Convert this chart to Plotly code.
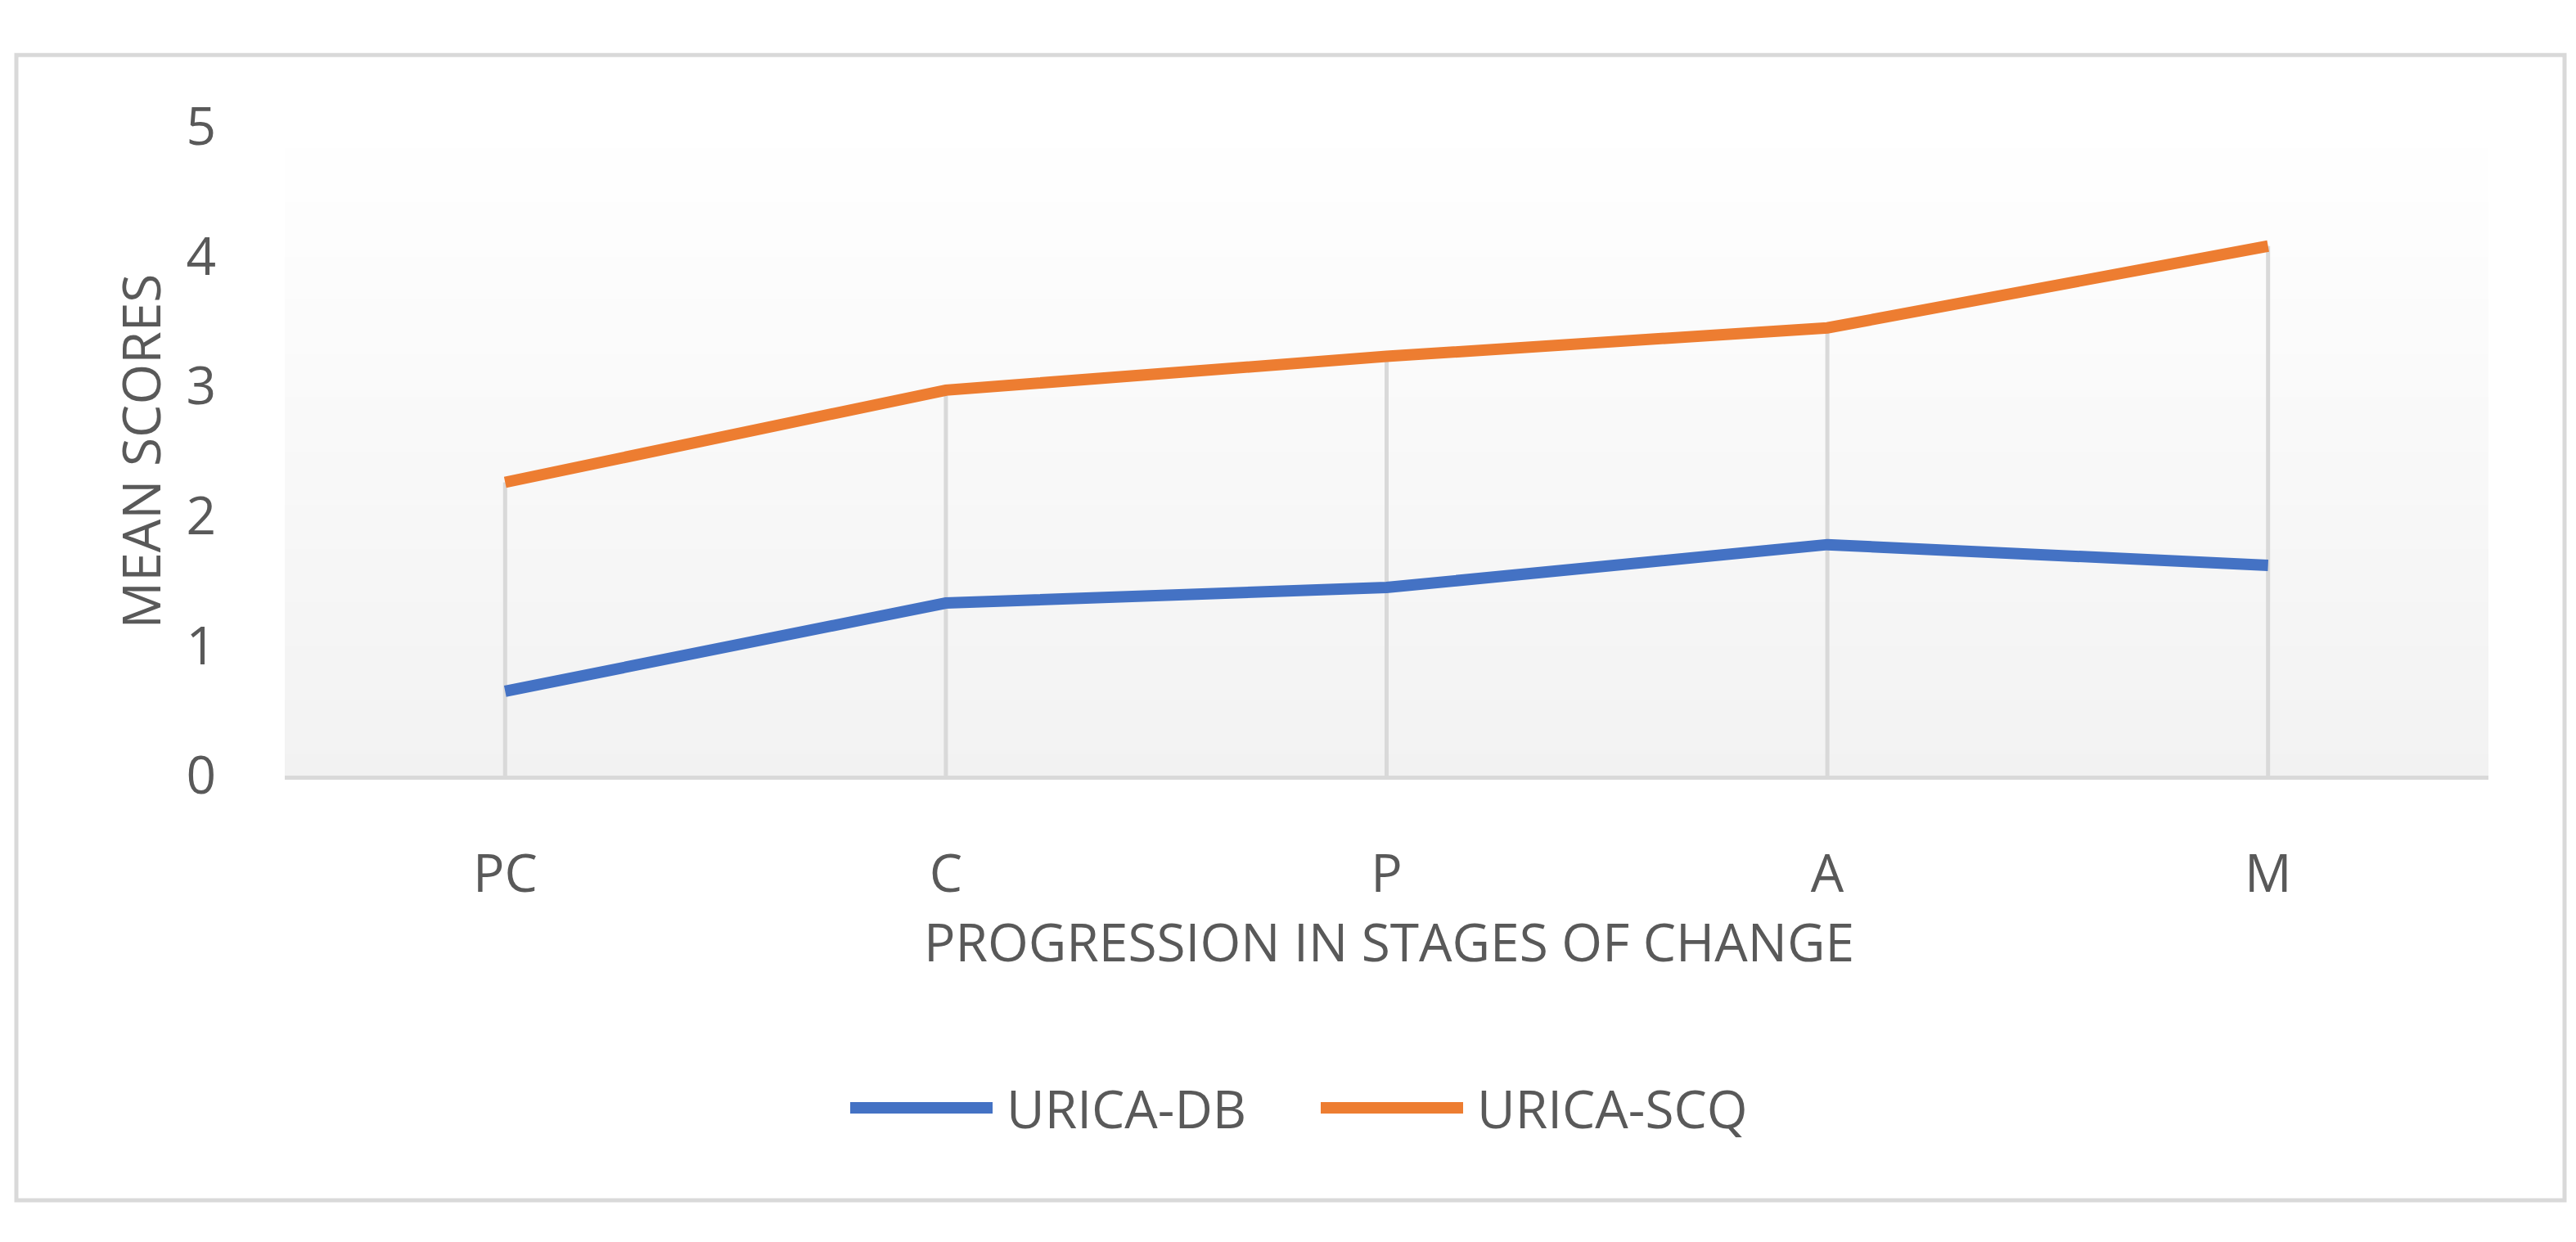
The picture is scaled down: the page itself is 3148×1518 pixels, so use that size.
import plotly.graph_objects as go

# ---- data ----
categories = ["PC", "C", "P", "A", "M"]
urica_db = [0.65, 1.33, 1.45, 1.78, 1.62]
urica_scq = [2.26, 2.97, 3.23, 3.45, 4.08]
y_ticks = [0, 1, 2, 3, 4, 5]
series_names = ["URICA-DB", "URICA-SCQ"]
x_title = "PROGRESSION IN STAGES OF CHANGE"
y_title = "MEAN SCORES"

# ---- styling ----
BLUE = "#4472C4"
ORANGE = "#ED7D31"
GRID = "#D9D9D9"
TEXT = "#595959"
FONT = "Open Sans"
FS = 64

OFF = 8  # default body margin of the page
W, H = 3148 - 2 * OFF, 1518 - 2 * OFF


def fx(X):
    return (X - OFF) / W


def fy(Y):
    return 1 - (Y - OFF) / H


fig = go.Figure()

# drop lines from the highest series down to the axis
dx, dy = [], []
for c, a, b in zip(categories, urica_db, urica_scq):
    dx += [c, c, None]
    dy += [0, max(a, b), None]
fig.add_trace(go.Scatter(x=dx, y=dy, mode="lines", line=dict(color=GRID, width=5),
                         hoverinfo="skip", showlegend=False))

fig.add_trace(go.Scatter(x=categories, y=urica_db, mode="lines", name=series_names[0],
                         line=dict(color=BLUE, width=14), showlegend=False))
fig.add_trace(go.Scatter(x=categories, y=urica_scq, mode="lines", name=series_names[1],
                         line=dict(color=ORANGE, width=14), showlegend=False))

shapes = []
# gradient plot-area fill (white at top to light gray at bottom)
N = 60
for i in range(N):
    t = (i + 0.5) / N  # 0 bottom -> 1 top
    v = int(round(0xF2 + (0xFF - 0xF2) * t))
    shapes.append(dict(type="rect", xref="x domain", yref="y domain",
                       x0=0, x1=1, y0=i / N, y1=(i + 1) / N + 0.002,
                       fillcolor=f"rgb({v},{v},{v})", line=dict(width=0), layer="below"))

# chart border
shapes.append(dict(type="rect", xref="paper", yref="paper",
                   x0=fx(20), x1=fx(3134), y0=fy(1508), y1=fy(22),
                   line=dict(color=GRID, width=5), fillcolor="rgba(0,0,0,0)", layer="below"))

# custom legend (long line symbols as in the original)
legend_items = [(series_names[0], BLUE, 1039, 1213, 1228),
                (series_names[1], ORANGE, 1614, 1788, 1803)]
annotations = []
for name, col, x0, x1, xt in legend_items:
    shapes.append(dict(type="line", xref="paper", yref="paper",
                       x0=fx(x0), x1=fx(x1), y0=fy(1388), y1=fy(1388),
                       line=dict(color=col, width=14)))
    annotations.append(dict(text=name, xref="paper", yref="paper", x=fx(xt), y=fy(1388),
                            xanchor="left", yanchor="middle", showarrow=False,
                            font=dict(family=FONT, size=FS, color=TEXT)))

annotations.append(dict(text=y_title, xref="paper", yref="paper", x=fx(171), y=fy(536),
                        textangle=-90, xanchor="center", yanchor="middle", showarrow=False,
                        font=dict(family=FONT, size=FS, color=TEXT)))
annotations.append(dict(text=x_title, xref="paper", yref="paper", x=fx(1697), y=fy(1172),
                        xanchor="center", yanchor="middle", showarrow=False,
                        font=dict(family=FONT, size=FS, color=TEXT)))

fig.update_layout(
    width=W, height=H, autosize=False,
    margin=dict(l=0, r=0, t=0, b=0, pad=0),
    paper_bgcolor="white", plot_bgcolor="white",
    font=dict(family=FONT, size=FS, color=TEXT),
    shapes=shapes, annotations=annotations,
    showlegend=False,
    xaxis=dict(domain=[fx(348), fx(3041)], type="category", range=[-0.5, 4.5],
               showgrid=False, zeroline=False, showline=True, linecolor=GRID, linewidth=5,
               ticks="outside", ticklen=60, tickcolor="rgba(0,0,0,0)",
               tickfont=dict(family=FONT, size=FS, color=TEXT), fixedrange=True),
    yaxis=dict(domain=[fy(957), fy(115)], range=[0, 5], tickvals=y_ticks,
               showgrid=False, zeroline=False, showline=False,
               ticks="outside", ticklen=70, tickcolor="rgba(0,0,0,0)",
               tickfont=dict(family=FONT, size=FS, color=TEXT), fixedrange=True),
)

fig.write_html("out.html")
